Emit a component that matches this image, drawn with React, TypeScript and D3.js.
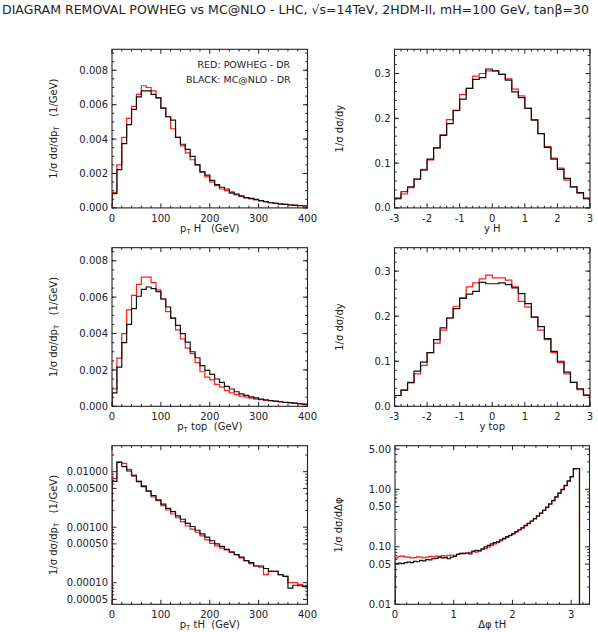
import React, { useEffect, useRef } from 'react';
import * as d3 from 'd3';

// bin edges
const ptEdges = d3.range(0, 401, 10);
const yEdges = d3.range(-3, 3.0001, 0.2);
const dphiEdges = d3.range(0, 61).map(i => (i * Math.PI) / 60);

// pT H
const ptHRed = [0.0009, 0.0025, 0.0041, 0.0052, 0.0059, 0.0066, 0.0071, 0.0070, 0.0068, 0.0064, 0.0058, 0.0053, 0.0046, 0.0041, 0.0036, 0.0032, 0.0028, 0.0025, 0.0021, 0.0018, 0.0015, 0.0013, 0.0011, 0.0010, 0.00085, 0.00075, 0.00066, 0.00058, 0.00052, 0.00046, 0.0004, 0.00036, 0.00031, 0.00027, 0.00024, 0.00021, 0.00018, 0.00016, 0.00014, 0.00012];
const ptHBlack = [0.00083, 0.00223, 0.00374, 0.00484, 0.00573, 0.00645, 0.0068, 0.0068, 0.0066, 0.0064, 0.0058, 0.0053, 0.0051, 0.0041, 0.0037, 0.0034, 0.0030, 0.0025, 0.0021, 0.0019, 0.0016, 0.00135, 0.0012, 0.0011, 0.00092, 0.0008, 0.0007, 0.0006, 0.00055, 0.0005, 0.00042, 0.00037, 0.0003, 0.00026, 0.00022, 0.0002, 0.00017, 0.00015, 0.00013, 0.00011];

// y H
const yHRed = [0.020, 0.031, 0.045, 0.065, 0.086, 0.107, 0.134, 0.163, 0.197, 0.217, 0.253, 0.267, 0.294, 0.300, 0.306, 0.306, 0.298, 0.288, 0.265, 0.250, 0.222, 0.197, 0.166, 0.137, 0.111, 0.089, 0.062, 0.047, 0.033, 0.020];
const yHBlack = [0.022, 0.036, 0.047, 0.064, 0.084, 0.109, 0.134, 0.162, 0.188, 0.218, 0.243, 0.267, 0.287, 0.291, 0.310, 0.306, 0.298, 0.285, 0.259, 0.246, 0.222, 0.196, 0.166, 0.135, 0.109, 0.086, 0.066, 0.047, 0.034, 0.022];

// pT top
const ptTopRed = [0.00095, 0.00265, 0.0040, 0.0053, 0.0061, 0.0067, 0.0071, 0.0071, 0.0068, 0.0064, 0.0059, 0.0052, 0.00485, 0.0042, 0.0037, 0.0032, 0.0029, 0.0024, 0.0019, 0.0016, 0.00145, 0.0012, 0.00105, 0.00087, 0.00074, 0.00064, 0.00056, 0.0005, 0.00045, 0.0004, 0.00036, 0.00033, 0.0003, 0.00027, 0.00024, 0.00021, 0.00019, 0.00016, 0.00013, 0.00011];
const ptTopBlack = [0.00074, 0.00215, 0.0035, 0.0045, 0.00537, 0.00605, 0.00643, 0.00656, 0.00647, 0.0063, 0.0059, 0.00546, 0.00485, 0.00445, 0.0040, 0.00353, 0.0030, 0.00267, 0.00224, 0.00197, 0.00175, 0.0015, 0.00132, 0.0011, 0.00095, 0.0008, 0.00068, 0.0006, 0.00052, 0.00046, 0.0004, 0.00036, 0.00032, 0.00028, 0.00025, 0.00022, 0.0002, 0.00017, 0.00014, 0.00012];

// y top
const yTopRed = [0.024, 0.036, 0.052, 0.072, 0.091, 0.119, 0.140, 0.169, 0.196, 0.222, 0.240, 0.265, 0.274, 0.283, 0.291, 0.285, 0.285, 0.280, 0.265, 0.233, 0.220, 0.198, 0.169, 0.148, 0.119, 0.097, 0.072, 0.053, 0.037, 0.025];
const yTopBlack = [0.024, 0.036, 0.053, 0.078, 0.098, 0.119, 0.148, 0.174, 0.196, 0.217, 0.240, 0.249, 0.255, 0.275, 0.272, 0.272, 0.274, 0.270, 0.263, 0.250, 0.228, 0.198, 0.177, 0.150, 0.122, 0.100, 0.076, 0.053, 0.039, 0.025];

// pT tH
const ptTHRed = [0.0075, 0.0151, 0.0141, 0.011, 0.0087, 0.0068, 0.0056, 0.0044, 0.0035, 0.0030, 0.00244, 0.00204, 0.00173, 0.00148, 0.00126, 0.00105, 0.00092, 0.00081, 0.0007, 0.00059, 0.00051, 0.00046, 0.00042, 0.00039, 0.00035, 0.00032, 0.00028, 0.00025, 0.00022, 0.0002, 0.00019, 0.00014, 0.00016, 0.00016, 0.00014, 0.00013, 0.0001, 0.0001, 0.000093, 0.000088];
const ptTHBlack = [0.0067, 0.0147, 0.0123, 0.0103, 0.0084, 0.0066, 0.0054, 0.0045, 0.0037, 0.0031, 0.0026, 0.00218, 0.0019, 0.0016, 0.00139, 0.00117, 0.00103, 0.00088, 0.00076, 0.00066, 0.00057, 0.0005, 0.00045, 0.0004, 0.00036, 0.00032, 0.00029, 0.00025, 0.00023, 0.0002, 0.0002, 0.00018, 0.00016, 0.00016, 0.00014, 0.00013, 0.00008, 0.00009, 0.000088, 0.000085];

// delta phi tH
const dphiRed = [0.064, 0.068, 0.069, 0.067, 0.066, 0.064, 0.065, 0.067, 0.066, 0.064, 0.066, 0.068, 0.067, 0.069, 0.068, 0.070, 0.069, 0.071, 0.072, 0.070, 0.074, 0.076, 0.078, 0.077, 0.080, 0.082, 0.081, 0.086, 0.090, 0.094, 0.100, 0.106, 0.112, 0.118, 0.127, 0.136, 0.146, 0.156, 0.168, 0.182, 0.196, 0.214, 0.232, 0.252, 0.278, 0.305, 0.340, 0.380, 0.43, 0.48, 0.55, 0.63, 0.73, 0.85, 0.98, 1.15, 1.37, 1.65, 2.25, 2.28];
const dphiBlack = [0.051, 0.052, 0.051, 0.053, 0.054, 0.053, 0.056, 0.055, 0.058, 0.057, 0.060, 0.059, 0.062, 0.063, 0.066, 0.064, 0.065, 0.062, 0.066, 0.068, 0.074, 0.077, 0.076, 0.078, 0.075, 0.084, 0.087, 0.085, 0.092, 0.100, 0.106, 0.112, 0.118, 0.122, 0.132, 0.140, 0.150, 0.158, 0.170, 0.184, 0.198, 0.214, 0.235, 0.255, 0.280, 0.310, 0.345, 0.385, 0.43, 0.49, 0.56, 0.64, 0.74, 0.86, 1.00, 1.17, 1.40, 1.66, 2.30, 2.30];

const logTicks5 = [0.00005, 0.0001, 0.0005, 0.001, 0.005, 0.01];
const logTicks6 = [0.01, 0.05, 0.1, 0.5, 1, 5];

const FONT = 'DejaVu Sans';

type Part = { t: string; sub?: boolean };

function addText(g, parts: Part[], size: number) {
  g.style('white-space', 'pre');
  let shifted = false;
  parts.forEach(p => {
    const s = g.append('tspan').text(p.t);
    if (p.sub) {
      s.attr('font-size', size * 0.7).attr('dy', 2);
      shifted = true;
    } else if (shifted) {
      s.attr('dy', -2);
      shifted = false;
    }
  });
}

function logMinor(lo, hi) {
  const out: number[] = [];
  for (let e = -6; e <= 1; e++) {
    for (let m = 1; m <= 9; m++) {
      const v = m * Math.pow(10, e);
      if (v >= lo && v <= hi && m !== 1 && m !== 5) out.push(v);
    }
  }
  return out;
}

function drawPanel(svg, cfg) {
  const { left, top, w, h } = cfg;
  const g = svg.append('g').attr('transform', `translate(${left},${top})`);
  const x = d3.scaleLinear().domain(cfg.xDomain).range([0, w]);
  const y = (cfg.log ? d3.scaleLog() : d3.scaleLinear()).domain(cfg.yDomain).range([h, 0]);
  const base = cfg.yDomain[0];

  const clipId = 'clip' + cfg.id;
  g.append('clipPath').attr('id', clipId).append('rect').attr('width', w).attr('height', h);

  const line = d3.line<[number, number]>()
    .x(d => x(d[0]))
    .y(d => y(d[1]))
    .curve(d3.curveStepAfter);

  const series = [
    { vals: cfg.red, color: '#ff1a1a' },
    { vals: cfg.black, color: '#111' },
  ];
  series.forEach(s => {
    const pts: [number, number][] = [[cfg.edges[0], base]];
    s.vals.forEach((v, i) => pts.push([cfg.edges[i], v]));
    const last = cfg.edges[s.vals.length];
    pts.push([last, s.vals[s.vals.length - 1]]);
    pts.push([last, base]);
    g.append('path')
      .attr('d', line(pts))
      .attr('fill', 'none')
      .attr('stroke', s.color)
      .attr('stroke-width', 1.2)
      .attr('clip-path', `url(#${clipId})`);
  });

  // frame
  g.append('rect').attr('width', w).attr('height', h)
    .attr('fill', 'none').attr('stroke', '#222').attr('stroke-width', 1.1);

  const tickG = g.append('g').attr('stroke', '#222').attr('stroke-width', 1);
  const xt = (vals, len) => vals.forEach(v => {
    const px = x(v);
    tickG.append('line').attr('x1', px).attr('x2', px).attr('y1', h).attr('y2', h - len);
    tickG.append('line').attr('x1', px).attr('x2', px).attr('y1', 0).attr('y2', len);
  });
  const yt = (vals, len) => vals.forEach(v => {
    const py = y(v);
    tickG.append('line').attr('x1', 0).attr('x2', len).attr('y1', py).attr('y2', py);
    tickG.append('line').attr('x1', w).attr('x2', w - len).attr('y1', py).attr('y2', py);
  });
  xt(cfg.xMajor, 4.5);
  xt(cfg.xMinor, 2.2);
  yt(cfg.yMajor, 4.5);
  yt(cfg.yMinor, 2.2);

  // tick labels
  cfg.xMajor.forEach(v => {
    g.append('text').attr('x', x(v)).attr('y', h + 14)
      .attr('text-anchor', 'middle').attr('font-family', FONT).attr('font-size', 10)
      .attr('fill', '#222').text(String(v));
  });
  cfg.yMajor.forEach(v => {
    g.append('text').attr('x', -4).attr('y', y(v) + 3.6)
      .attr('text-anchor', 'end').attr('font-family', FONT).attr('font-size', 10)
      .attr('fill', '#222').text(cfg.yFmt(v));
  });

  // axis labels
  const xl = g.append('text').attr('x', w / 2).attr('y', h + 24)
    .attr('text-anchor', 'middle').attr('font-family', FONT).attr('font-size', 10).attr('fill', '#222');
  addText(xl, cfg.xLabel, 10);

  const yl = g.append('text')
    .attr('transform', `translate(${cfg.yLabelX},${h / 2}) rotate(-90)`)
    .attr('text-anchor', 'middle').attr('font-family', FONT).attr('font-size', 10).attr('fill', '#222');
  addText(yl, cfg.yLabel, 10);

  return g;
}

const App = () => {
  const svgRef = useRef(null);

  useEffect(() => {
    const svg = d3.select(svgRef.current);
    svg.selectAll('*').remove();

    svg.append('text')
      .attr('x', 2).attr('y', 14)
      .attr('font-family', FONT).attr('font-size', 12.5).attr('fill', '#222')
      .attr('textLength', 587).attr('lengthAdjust', 'spacingAndGlyphs')
      .text('DIAGRAM REMOVAL POWHEG vs MC@NLO - LHC, \u221As=14TeV, 2HDM-II, mH=100 GeV, tan\u03B2=30');

    const L1 = 112, L2 = 394.5, W = 195.5, PH = 158.6;
    const T = [49.3, 247.7, 445.7];

    const ptMinor = d3.range(0, 401, 20).filter(v => v % 100 !== 0);
    const yMinorX = d3.range(-3, 3.001, 0.2).filter(v => Math.abs(v - Math.round(v)) > 1e-6);
    const ptYLabel: Part[] = [{ t: '1/\u03C3 d\u03C3/dp' }, { t: 'T', sub: true }, { t: '   (1/GeV)' }];
    const rapLabel: Part[] = [{ t: '1/\u03C3 d\u03C3/dy' }];

    const p1 = drawPanel(svg, {
      id: 1, left: L1, top: T[0], w: W, h: PH,
      xDomain: [0, 400], yDomain: [0, 0.00922], edges: ptEdges,
      red: ptHRed, black: ptHBlack,
      xMajor: [0, 100, 200, 300, 400], xMinor: ptMinor,
      yMajor: d3.range(0, 0.0081, 0.002), yMinor: d3.range(0, 0.0092, 0.0005),
      yFmt: d3.format('.3f'),
      xLabel: [{ t: 'p' }, { t: 'T', sub: true }, { t: ' H   (GeV)' }],
      yLabel: ptYLabel, yLabelX: -55,
    });
    p1.append('text').attr('x', 85.5).attr('y', 18.5)
      .attr('font-family', FONT).attr('font-size', 9.5).attr('fill', '#222')
      .text('RED: POWHEG - DR');
    p1.append('text').attr('x', 74).attr('y', 34)
      .attr('font-family', FONT).attr('font-size', 9.5).attr('fill', '#222')
      .text('BLACK: MC@NLO - DR');

    drawPanel(svg, {
      id: 2, left: L2, top: T[0], w: W, h: PH,
      xDomain: [-3, 3], yDomain: [0, 0.354], edges: yEdges,
      red: yHRed, black: yHBlack,
      xMajor: [-3, -2, -1, 0, 1, 2, 3], xMinor: yMinorX,
      yMajor: [0, 0.1, 0.2, 0.3], yMinor: d3.range(0, 0.35, 0.02),
      yFmt: d3.format('.1f'),
      xLabel: [{ t: 'y H' }],
      yLabel: rapLabel, yLabelX: -52,
    });

    drawPanel(svg, {
      id: 3, left: L1, top: T[1], w: W, h: PH,
      xDomain: [0, 400], yDomain: [0, 0.00872], edges: ptEdges,
      red: ptTopRed, black: ptTopBlack,
      xMajor: [0, 100, 200, 300, 400], xMinor: ptMinor,
      yMajor: d3.range(0, 0.0081, 0.002), yMinor: d3.range(0, 0.0087, 0.0005),
      yFmt: d3.format('.3f'),
      xLabel: [{ t: 'p' }, { t: 'T', sub: true }, { t: ' top  (GeV)' }],
      yLabel: ptYLabel, yLabelX: -55,
    });

    drawPanel(svg, {
      id: 4, left: L2, top: T[1], w: W, h: PH,
      xDomain: [-3, 3], yDomain: [0, 0.352], edges: yEdges,
      red: yTopRed, black: yTopBlack,
      xMajor: [-3, -2, -1, 0, 1, 2, 3], xMinor: yMinorX,
      yMajor: [0, 0.1, 0.2, 0.3], yMinor: d3.range(0, 0.35, 0.02),
      yFmt: d3.format('.1f'),
      xLabel: [{ t: 'y top' }],
      yLabel: rapLabel, yLabelX: -52,
    });

    drawPanel(svg, {
      id: 5, left: L1, top: T[2], w: W, h: PH, log: true,
      xDomain: [0, 400], yDomain: [0.0000408, 0.0294], edges: ptEdges,
      red: ptTHRed, black: ptTHBlack,
      xMajor: [0, 100, 200, 300, 400], xMinor: ptMinor,
      yMajor: logTicks5, yMinor: logMinor(0.0000408, 0.0294),
      yFmt: d3.format('.5f'),
      xLabel: [{ t: 'p' }, { t: 'T', sub: true }, { t: ' tH  (GeV)' }],
      yLabel: ptYLabel, yLabelX: -55,
    });

    drawPanel(svg, {
      id: 6, left: L2 + 0.5, top: T[2], w: W - 1, h: PH, log: true,
      xDomain: [0, 3.312], yDomain: [0.01, 5.73], edges: dphiEdges,
      red: dphiRed, black: dphiBlack,
      xMajor: [0, 1, 2, 3], xMinor: d3.range(0.2, 3.31, 0.2).filter(v => Math.abs(v - Math.round(v)) > 1e-6),
      yMajor: logTicks6, yMinor: logMinor(0.01, 5.73),
      yFmt: d3.format('.2f'),
      xLabel: [{ t: '\u0394\u03C6 tH' }],
      yLabel: [{ t: '1/\u03C3 d\u03C3/d\u0394\u03C6' }], yLabelX: -53,
    });
  }, []);

  return (
    <svg
      ref={svgRef}
      width={598}
      height={632}
      style={{ position: 'absolute', left: 0, top: 0, background: '#fff' }}
    />
  );
};

export default App;
